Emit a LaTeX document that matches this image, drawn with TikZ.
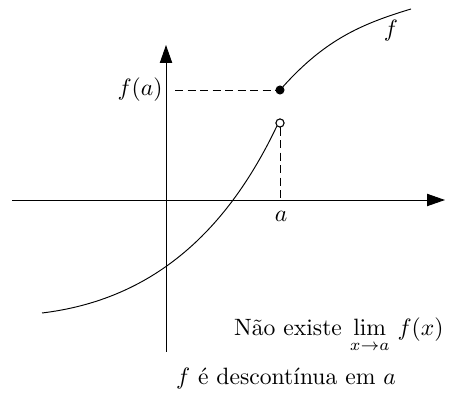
\documentclass[tikz,border=0pt]{standalone}
\usetikzlibrary{arrows.meta}
\begin{document}
\begin{tikzpicture}[x=0.423pt,y=-0.423pt,
  axis/.style={line width=0.4pt,-{Triangle[length=7.6pt,width=5.2pt]}},
  curve/.style={line width=0.4pt},
  guide/.style={line width=0.4pt,dash pattern=on 3.4pt off 1.9pt},
  fulldot/.style={circle,fill=black,draw=black,inner sep=0pt,minimum size=3.4pt},
  opendot/.style={circle,fill=white,draw=black,line width=0.4pt,inner sep=0pt,minimum size=3.4pt}]
\useasboundingbox (0,0) rectangle (451,396);
% axes
\coordinate (xs) at (12,200);
\coordinate (xe) at (445,200);
\coordinate (ys) at (166,352);
\coordinate (ye) at (166,45);
\draw[axis] (xs) -- (xe);
\draw[axis] (ys) -- (ye);
% points
\coordinate (lowstart) at (42,313);
\coordinate (highend) at (411,9);
\coordinate (afoot) at (280,200);
\coordinate (fastart) at (175,90);
\node[opendot] (open) at (280,123) {};
\node[fulldot] (full) at (280,90) {};
% dashed guides
\draw[guide] (fastart) -- (full);
\draw[guide] (open) -- (afoot);
% curve
\draw[curve] (lowstart) .. controls (150,300) and (225,235) .. (open.south west);
\draw[curve] (full) .. controls (325,40) and (361,24) .. (highend);
\node[opendot] at (open) {};
% labels
\node (fa) at (140,90) {$f(a)$};
\node (alab) at (281,216) {$a$};
\node (flab) at (391,31) {$f$};
\node[anchor=base east,inner sep=0pt] (lim) at (444,336) {Não existe $\lim\limits_{x\to a}\, f(x)$};
\node[anchor=base,inner sep=0pt] (disc) at (286,385) {$f$ é descontínua em $a$};
\end{tikzpicture}
\end{document}
